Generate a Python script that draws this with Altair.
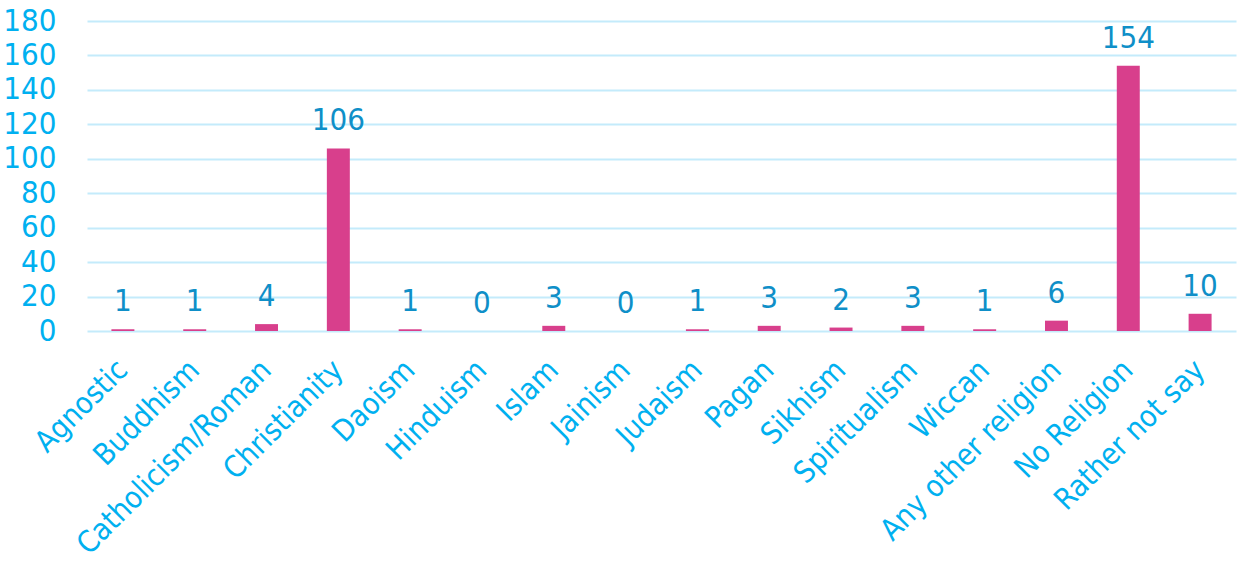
import altair as alt
import pandas as pd

categories = ["Agnostic", "Buddhism", "Catholicism/Roman", "Christianity", "Daoism",
              "Hinduism", "Islam", "Jainism", "Judaism", "Pagan", "Sikhism",
              "Spiritualism", "Wiccan", "Any other religion", "No Religion", "Rather not say"]
counts = [1, 1, 4, 106, 1, 0, 3, 0, 1, 3, 2, 3, 1, 6, 154, 10]
y_ticks = [0, 20, 40, 60, 80, 100, 120, 140, 160, 180]

df = pd.DataFrame({"cat": categories, "n": counts})
FONT = "DejaVu Sans Condensed, DejaVu Sans, sans-serif"

x = alt.X("cat:N", sort=categories, title=None,
          scale=alt.Scale(paddingInner=0.68, paddingOuter=0.34),
          axis=alt.Axis(labelAngle=-45, labelAlign="right", labelBaseline="middle",
                        labelFontSize=30, labelFont=FONT, labelColor="#00B0F0",
                        labelPadding=34, ticks=False, domain=False, grid=False,
                        labelLimit=400, labelOverlap=False))
y = alt.Y("n:Q", title=None,
          scale=alt.Scale(domain=[0, 180], nice=False),
          axis=alt.Axis(values=y_ticks, tickCount=10, labelFontSize=31, labelFont=FONT,
                        labelColor="#00B0F0", labelPadding=31, ticks=False, domain=False,
                        labelOverlap=False,
                        gridColor="#C4EBFB", gridWidth=2, gridOpacity=1))

bars = alt.Chart(df).mark_bar(color="#D83F8C").encode(x=x, y=y)
labels = alt.Chart(df).mark_text(font=FONT, fontSize=31, color="#0F8FC8",
                                 baseline="alphabetic", dy=-18).encode(
    x=x, y=y, text="n:Q")

chart = (bars + labels).properties(
    width=1149, height=310,
    autosize=alt.AutoSizeParams(type="none"),
    padding={"left": 87, "top": 21, "right": 2, "bottom": 233},
    background="white",
).configure_view(stroke=None)

chart.save("out.html", embed_options={"renderer": "svg", "actions": False})
